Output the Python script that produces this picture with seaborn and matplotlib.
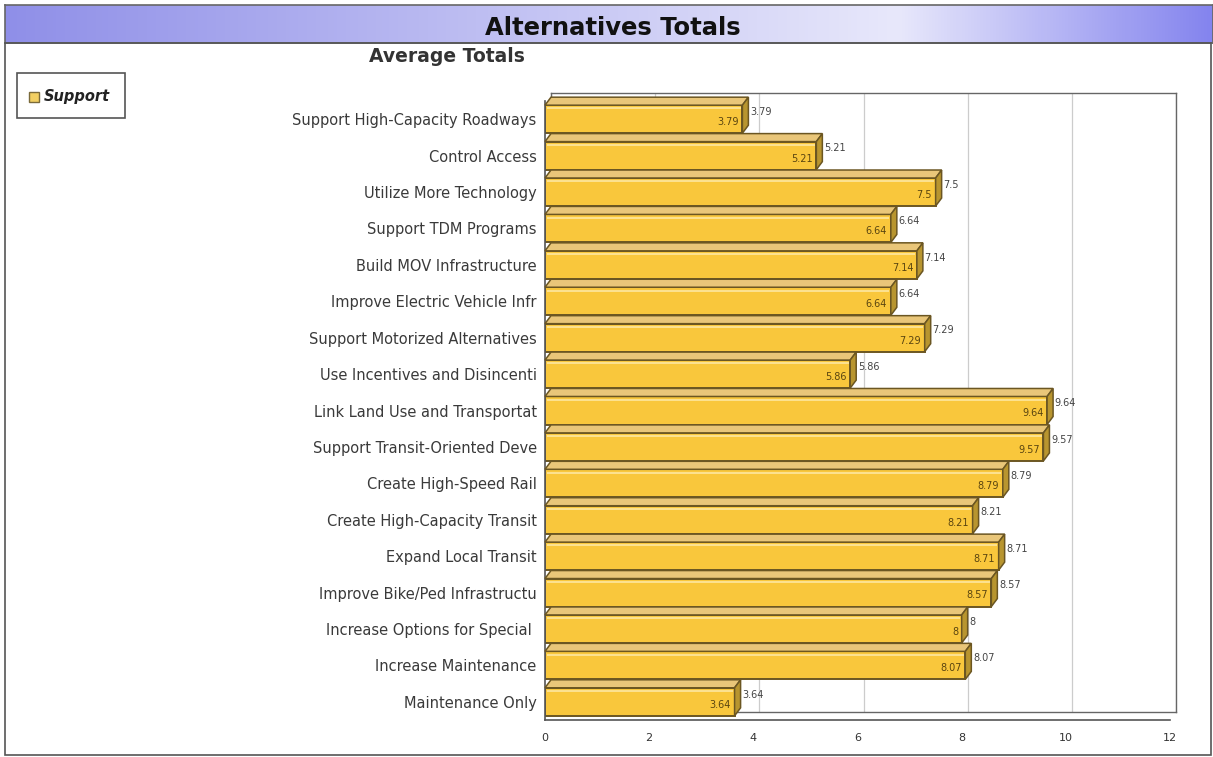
import numpy as np
import pandas as pd
import matplotlib
matplotlib.use("Agg")
import matplotlib.pyplot as plt
from matplotlib.patches import Rectangle, Polygon
import seaborn as sns

categories = [
    "Support High-Capacity Roadways", "Control Access", "Utilize More Technology",
    "Support TDM Programs", "Build MOV Infrastructure", "Improve Electric Vehicle Infr",
    "Support Motorized Alternatives", "Use Incentives and Disincenti",
    "Link Land Use and Transportat", "Support Transit-Oriented Deve",
    "Create High-Speed Rail", "Create High-Capacity Transit", "Expand Local Transit",
    "Improve Bike/Ped Infrastructu", "Increase Options for Special ",
    "Increase Maintenance", "Maintenance Only",
]
values = [3.79, 5.21, 7.5, 6.64, 7.14, 6.64, 7.29, 5.86, 9.64, 9.57,
          8.79, 8.21, 8.71, 8.57, 8, 8.07, 3.64]
value_labels = ["3.79", "5.21", "7.5", "6.64", "7.14", "6.64", "7.29", "5.86", "9.64",
                "9.57", "8.79", "8.21", "8.71", "8.57", "8", "8.07", "3.64"]
x_ticks = [0, 2, 4, 6, 8, 10, 12]
series_name = "Support"
chart_title = "Alternatives Totals"
sub_title = "Average Totals"

sns.set_style("white")
plt.rcParams['font.family'] = ['DejaVu Sans']

W, H = 1213, 757
fig = plt.figure(figsize=(W / 100, H / 100), dpi=100)

def px_rect(x0, y0, x1, y1):
    return [x0 / W, 1 - y1 / H, (x1 - x0) / W, (y1 - y0) / H]

# outer border
fig.patches.append(Rectangle((5 / W, 1 - 755 / H), 1206 / W, 712 / H,
                             transform=fig.transFigure, fill=False,
                             edgecolor="#555555", linewidth=1.2))

# title bar with gradient
tax = fig.add_axes(px_rect(5, 5, 1213, 43))
pos = np.linspace(0, 1, 400)
c_left = np.array([0x8f, 0x8f, 0xe8]) / 255
c_mid = np.array([0xe8, 0xe8, 0xfb]) / 255
c_right = np.array([0x84, 0x84, 0xee]) / 255
grad = np.zeros((1, 400, 3))
for k in range(3):
    grad[0, :, k] = np.interp(pos, [0, 0.74, 1], [c_left[k], c_mid[k], c_right[k]])
tax.imshow(grad, aspect="auto", extent=[0, 1, 0, 1])
tax.set_xlim(0, 1); tax.set_ylim(0, 1)
tax.set_xticks([]); tax.set_yticks([])
for s in tax.spines.values():
    s.set_color("#666666"); s.set_linewidth(1.2)
fig.text(612.5 / W, 1 - 35 / H, chart_title, ha="center", va="baseline",
         fontsize=17.5, fontweight="bold", color="#111111")

fig.text(447 / W, 1 - 62 / H, sub_title, ha="center", va="baseline",
         fontsize=13.5, fontweight="bold", color="#333333")

# geometry of plot
X0, X1, Y0, Y1 = 545, 1170, 101, 720
DX_PX, DY_PX = 6, 8
xmax = 12
n = len(categories)
dx = DX_PX * xmax / (X1 - X0)
dy = DY_PX * n / (Y1 - Y0)

# back wall
bax = fig.add_axes(px_rect(X0 + DX_PX, Y0 - DY_PX, X1 + DX_PX, Y1 - DY_PX))
bax.set_xlim(0, xmax)
bax.set_ylim(0, 1)
bax.set_xticks(x_ticks)
bax.set_yticks([])
bax.tick_params(labelbottom=False, length=0)
bax.grid(axis="x", color="#cccccc", linewidth=0.9)
for s in bax.spines.values():
    s.set_color("#666666"); s.set_linewidth(1.0)
bax.set_zorder(0)

ax = fig.add_axes(px_rect(X0, Y0, X1, Y1))
ax.set_zorder(1)
ax.patch.set_alpha(0)
df = pd.DataFrame({"cat": categories, "val": values})
bw = 0.77
sns.barplot(data=df, x="val", y="cat", orient="h", ax=ax, color="#f9c73c",
            saturation=1, width=bw, edgecolor="#6b5622", linewidth=1.4)
ax.set_xlim(0, xmax)
ax.set_ylim(n - 0.5, -0.5)
ax.set_xlabel(""); ax.set_ylabel("")

edge = "#6b5622"
for i, v in enumerate(values):
    top = i - bw / 2
    bot = i + bw / 2
    topface = Polygon([(0, top), (v, top), (v + dx, top - dy), (dx, top - dy)],
                      closed=True, facecolor="#e9c679", edgecolor=edge,
                      linewidth=1.1, clip_on=False, zorder=3)
    side = Polygon([(v, top), (v + dx, top - dy), (v + dx, bot - dy), (v, bot)],
                   closed=True, facecolor="#b8952f", edgecolor=edge,
                   linewidth=1.1, clip_on=False, zorder=3)
    ax.add_patch(topface)
    ax.add_patch(side)
    ax.plot([0.03, v - 0.03], [top + 0.09, top + 0.09], color="#fde7a0",
            linewidth=1.2, zorder=4, solid_capstyle="butt")
    ax.text(v - 0.07, i + 0.08, value_labels[i], ha="right", va="center",
            fontsize=7, color="#5a4510", zorder=5)
    ax.text(v + dx + 0.03, i - 0.2, value_labels[i], ha="left", va="center",
            fontsize=7, color="#444444", zorder=5, clip_on=False)

ax.set_xticks(x_ticks)
ax.set_xticklabels([str(t) for t in x_ticks])
ax.tick_params(axis="x", direction="inout", length=7, width=1, colors="#444444",
               labelsize=8, pad=6, labelcolor="#333333")
ax.tick_params(axis="y", direction="out", length=4, width=1, colors="#444444",
               labelsize=10.5, pad=2, labelcolor="#3a3a3a")
for side_name in ["top", "right"]:
    ax.spines[side_name].set_visible(False)
for side_name in ["left", "bottom"]:
    ax.spines[side_name].set_color("#555555")
    ax.spines[side_name].set_linewidth(1.2)

# legend box
fig.patches.append(Rectangle((17 / W, 1 - 118 / H), 108 / W, 45 / H,
                             transform=fig.transFigure, fill=False,
                             edgecolor="#555555", linewidth=1.2))
fig.patches.append(Rectangle((29 / W, 1 - 102 / H), 10 / W, 10 / H,
                             transform=fig.transFigure, facecolor="#f2cf62",
                             edgecolor="#7a6a3a", linewidth=1.0))
fig.text(44 / W, 1 - 97 / H, series_name, ha="left", va="center",
         fontsize=10.5, fontweight="bold", fontstyle="italic", color="#222222")

fig.savefig("out.png", dpi=100)
